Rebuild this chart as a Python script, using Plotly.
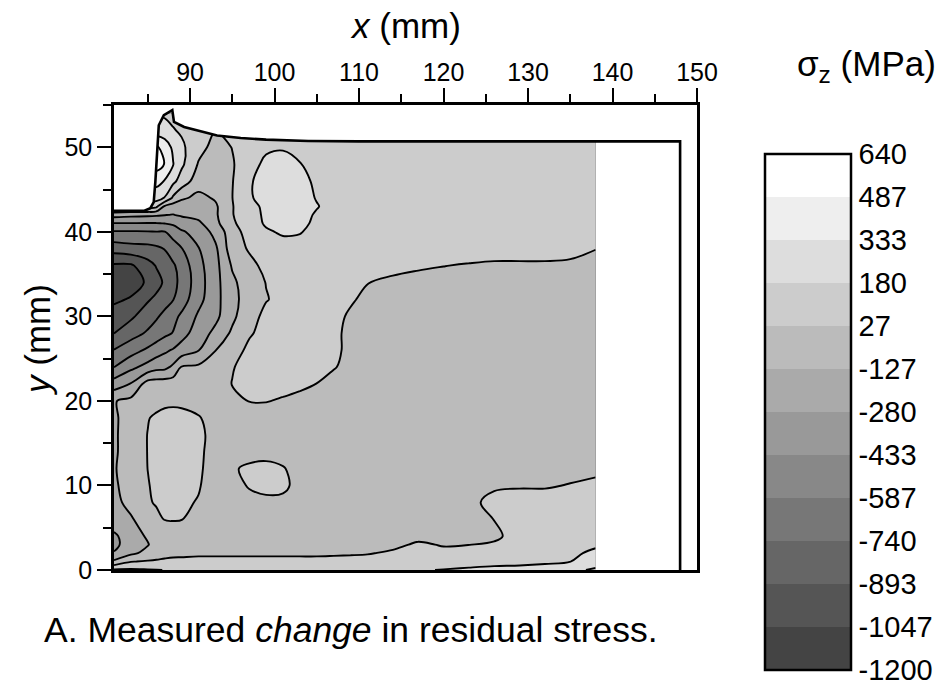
import plotly.graph_objects as go

# ---------------- data ----------------
# measurement grid (mm)
x_mm = [81, 83, 85, 86, 87, 88, 89, 91, 93, 95, 97, 99, 101, 103, 105, 107, 109, 111,
        114, 117, 120, 123, 126, 129, 132, 135, 138]
y_mm = [0, 1, 2, 3, 4, 6, 8, 10, 12, 14, 16, 18, 20, 22, 24, 26, 28, 30, 32, 34, 36,
        38, 40, 41, 42, 43, 44, 46, 48, 50, 52, 54]

# measured change in sigma_z (MPa); one row per y value, one column per x value
sigma_z = [
    [200, 200, 190, 185, 178, 165, 150, 140, 140, 140, 140, 140, 140, 140, 140, 140, 140, 140, 150, 170, 185, 200, 210, 215, 230, 290, 360],
    [-100, 20, 40, 45, 50, 55, 55, 60, 60, 60, 60, 60, 60, 60, 60, 60, 60, 65, 100, 110, 120, 130, 145, 150, 160, 178, 250],
    [-270, -160, -80, -40, -15, -5, 0, 5, 5, 5, 5, 5, 5, 5, 5, 10, 15, 20, 40, 60, 50, 55, 70, 120, 135, 160, 200],
    [-320, -200, -135, -70, -45, -35, -30, -30, -30, -30, -30, -30, -30, -30, -30, -25, -20, -15, 5, 40, 20, 25, 50, 110, 120, 130, 165],
    [-310, -190, -110, -70, -50, -45, -45, -45, -45, -45, -45, -45, -45, -45, -45, -45, -45, -40, -30, 0, -10, -20, -10, 100, 105, 110, 120],
    [-190, -140, -60, -10, 32, 35, 30, -10, -40, -45, -45, -45, -45, -45, -45, -45, -45, -45, -45, -45, -45, -50, 30, 100, 100, 105, 110],
    [-160, -90, 10, 40, 50, 50, 45, 20, -30, -40, -25, 0, 0, -35, -45, -45, -45, -45, -45, -45, -40, -20, 80, 100, 100, 105, 110],
    [-150, -60, 20, 50, 55, 55, 50, 35, -25, -30, 40, 60, 50, -10, -40, -45, -45, -45, -45, -45, -45, -35, 0, 10, 10, 35, 70],
    [-140, -50, 28, 55, 60, 60, 55, 45, -25, 15, 45, 55, 35, -20, -40, -45, -45, -45, -45, -45, -45, -45, -45, -45, -45, -30, -20],
    [-150, -50, 30, 55, 62, 62, 60, 50, -20, -35, -15, -10, -25, -40, -45, -45, -45, -45, -45, -45, -45, -45, -45, -45, -45, -45, -45],
    [-150, -50, 30, 55, 65, 65, 65, 55, -15, -35, -40, -40, -40, -45, -45, -45, -45, -45, -45, -45, -45, -45, -45, -45, -45, -45, -45],
    [-150, -60, 20, 45, 55, 55, 55, 35, -20, -35, -30, -30, -35, -40, -45, -45, -45, -45, -45, -45, -45, -45, -45, -45, -45, -45, -45],
    [-135, -90, -40, -15, 5, 10, 5, -20, -25, -5, 30, 32, 15, -5, -20, -35, -45, -45, -45, -45, -45, -45, -45, -45, -45, -45, -45],
    [-360, -270, -60, -50, -45, -45, -45, -40, -20, 30, 60, 70, 65, 50, 25, -20, -45, -45, -45, -45, -45, -45, -45, -45, -45, -45, -45],
    [-590, -470, -380, -330, -320, -250, -115, -100, -60, 20, 65, 80, 85, 80, 65, 35, -10, -30, -40, -45, -45, -45, -45, -45, -45, -45, -45],
    [-735, -650, -560, -510, -460, -420, -370, -285, -130, -20, 50, 80, 90, 90, 80, 50, 0, -30, -40, -45, -45, -45, -45, -45, -45, -45, -45],
    [-895, -800, -720, -670, -620, -580, -490, -360, -240, -100, 15, 60, 75, 80, 75, 50, 0, -30, -40, -45, -45, -45, -45, -45, -45, -45, -45],
    [-990, -920, -810, -760, -700, -630, -560, -410, -320, -160, -25, 60, 75, 80, 80, 60, 10, -20, -40, -45, -45, -45, -45, -45, -45, -45, -45],
    [-1070, -1035, -910, -860, -800, -745, -660, -480, -330, -170, -60, 20, 60, 75, 75, 60, 40, 0, -40, -45, -45, -45, -45, -45, -45, -45, -45],
    [-1150, -1100, -1030, -950, -870, -780, -700, -500, -330, -160, -40, 30, 70, 90, 90, 80, 60, 30, -10, -30, -35, -40, -40, -40, -40, -40, -45],
    [-1070, -1070, -950, -885, -830, -760, -680, -480, -330, -110, -10, 60, 90, 100, 100, 100, 100, 100, 80, 50, 30, 15, 0, 0, 0, 0, -25],
    [-830, -800, -790, -770, -735, -665, -595, -440, -310, -40, 40, 100, 120, 115, 105, 100, 100, 100, 100, 100, 100, 100, 100, 100, 100, 70, 30],
    [-600, -600, -595, -590, -590, -520, -450, -380, -230, -40, 90, 160, 200, 190, 130, 105, 100, 100, 100, 100, 100, 100, 100, 100, 100, 100, 100],
    [-440, -440, -440, -440, -430, -410, -370, -310, -170, 5, 100, 200, 250, 230, 140, 110, 100, 100, 100, 100, 100, 100, 100, 100, 100, 100, 100],
    [-220, -240, -250, -260, -275, -285, -260, -230, -150, 20, 110, 210, 260, 240, 160, 115, 100, 100, 100, 100, 100, 100, 100, 100, 100, 100, 100],
    [100, 100, 100, 60, -150, -200, -220, -240, -150, 20, 120, 220, 260, 240, 190, 120, 100, 100, 100, 100, 100, 100, 100, 100, 100, 100, 100],
    [250, 250, 250, 250, 170, 0, -100, -170, -110, 25, 160, 240, 300, 250, 170, 120, 100, 100, 100, 100, 100, 100, 100, 100, 100, 100, 100],
    [380, 380, 380, 380, 325, 220, 110, -50, -70, 20, 165, 230, 280, 230, 150, 110, 100, 100, 100, 100, 100, 100, 100, 100, 100, 100, 100],
    [560, 560, 560, 560, 480, 340, 210, 15, -40, 15, 110, 220, 260, 185, 140, 110, 100, 100, 100, 100, 100, 100, 100, 100, 100, 100, 100],
    [510, 510, 510, 510, 430, 300, 210, 75, -20, 30, 100, 150, 160, 140, 110, 100, 100, 100, 100, 100, 100, 100, 100, 100, 100, 100, 100],
    [250, 250, 250, 250, 230, 190, 160, 100, 30, 80, 100, 100, 100, 100, 100, 100, 100, 100, 100, 100, 100, 100, 100, 100, 100, 100, 100],
    [170, 170, 170, 170, 160, 140, 120, 100, 100, 100, 100, 100, 100, 100, 100, 100, 100, 100, 100, 100, 100, 100, 100, 100, 100, 100, 100],
]

# contour levels and colour-bar labels
level_start = -1200
level_end = 640
level_step = 153.3333
cbar_labels = ["-1200", "-1047", "-893", "-740", "-587", "-433", "-280", "-127",
               "27", "180", "333", "487", "640"]
band_grays = [68, 85, 102, 119, 136, 153, 170, 187, 204, 221, 238, 255]

# specimen outline (mm)
outline_x = [81, 84.6, 85.3, 85.7, 85.9, 86.1, 86.3, 86.9, 87.9, 88.1, 89.3, 91.6, 93.2,
             96, 99, 104, 110, 148, 148]
outline_y = [42.5, 42.5, 42.8, 43.5, 46, 50.2, 52.6, 53.8, 54.4, 53.0, 52.4, 51.8, 51.4,
             51.1, 50.9, 50.75, 50.7, 50.7, 0]

x_range = [81, 150]
y_range = [0, 55]

# ---------------- figure ----------------
FONT = "Liberation Sans, Arial, sans-serif"
W, H = 948, 692
PL, PR, PT, PB = 114, 697, 105, 570   # plot-area pixel box


def paper(px, py):
    return (px - PL) / (PR - PL), (PB - py) / (PB - PT)


def gray(g):
    return "rgb({0},{0},{0})".format(g)


levels = [level_start + k * level_step for k in range(len(cbar_labels))]
nb = len(band_grays)

# colours used by the contour fill (evaluated at band mid-points)
fill_scale = [[0, gray(band_grays[0])]]
for k, g in enumerate(band_grays):
    fill_scale.append([(2 * k + 1) / (2 * nb), gray(g)])
fill_scale.append([1, gray(band_grays[-1])])

# stepped scale for the colour bar
step_scale = []
for k, g in enumerate(band_grays):
    step_scale.append([k / nb, gray(g)])
    step_scale.append([(k + 1) / nb, gray(g)])

contours_common = dict(start=level_start, end=level_end, size=level_step)

fig = go.Figure()

fig.add_trace(go.Contour(
    x=x_mm, y=y_mm, z=sigma_z,
    zmin=level_start, zmax=level_end, autocontour=False,
    contours=dict(coloring="fill", showlines=False, **contours_common),
    colorscale=fill_scale,
    line=dict(width=0, smoothing=1),
    hoverinfo="skip", showscale=False,
))

fig.add_trace(go.Contour(
    x=x_mm, y=y_mm, z=sigma_z, autocontour=False,
    contours=dict(coloring="none", showlines=True, **contours_common),
    line=dict(color="black", width=1.9, smoothing=1),
    showscale=False, hoverinfo="skip",
))

# white mask outside the specimen
mask_x = outline_x[:-1] + [x_range[1] + 2, x_range[1] + 2, x_range[0] - 2, x_range[0] - 2]
mask_y = outline_y[:-1] + [outline_y[-2], y_range[1] + 2, y_range[1] + 2, outline_y[0]]
fig.add_trace(go.Scatter(
    x=mask_x, y=mask_y, mode="lines", fill="toself", fillcolor="white",
    line=dict(width=0, color="white"), hoverinfo="skip", showlegend=False,
))

fig.add_trace(go.Scatter(
    x=outline_x, y=outline_y, mode="lines",
    line=dict(color="black", width=2.6), hoverinfo="skip", showlegend=False,
))

# colour bar carrier (invisible markers)
cb_x, cb_y = paper(765, 154)
fig.add_trace(go.Scatter(
    x=[x_mm[0], x_mm[0]], y=[y_mm[0], y_mm[0]], mode="markers",
    hoverinfo="skip", showlegend=False,
    marker=dict(
        size=1, opacity=0,
        color=[level_start, level_end], cmin=level_start, cmax=level_end,
        colorscale=step_scale, showscale=True,
        colorbar=dict(
            thickness=86, thicknessmode="pixels",
            len=516, lenmode="pixels",
            x=cb_x, xanchor="left", y=cb_y, yanchor="top",
            xpad=0, ypad=0,
            outlinewidth=2.5, outlinecolor="black",
            tickmode="array", tickvals=levels, ticktext=cbar_labels,
            ticks="", ticklabelposition="outside", ticklabeloverflow="allow",
            tickfont=dict(family=FONT, size=29, color="black"),
        ),
    ),
))

axis_common = dict(
    showline=True, linewidth=2.6, linecolor="black", mirror=True,
    ticks="outside", ticklen=14, tickwidth=2, tickcolor="black",
    showgrid=False, zeroline=False,
    tickfont=dict(family=FONT, size=25, color="black"),
    minor=dict(ticks="outside", ticklen=8, tickwidth=2, tickcolor="black", dtick=5, showgrid=False),
)

fig.update_xaxes(range=x_range, side="top", tick0=0, dtick=10, ticklabelstandoff=-3, **axis_common)
fig.update_yaxes(range=y_range, tick0=0, dtick=10, **axis_common)


def label(text, px, py, size=35, angle=0):
    ax_, ay_ = paper(px, py)
    return dict(text=text, x=ax_, y=ay_, xref="paper", yref="paper",
                xanchor="center", yanchor="middle", textangle=angle,
                showarrow=False, font=dict(family=FONT, size=size, color="black"))


ann = [
    label("<i>x</i> (mm)", 405, 26),
    label("<i>y</i> (mm)", 37, 340, angle=-90),
    label("σ<sub>z</sub> (MPa)", 866, 66),
    label("A. Measured <i>change</i> in residual stress.", 351, 630, size=35.5),
]

fig.update_layout(
    width=W, height=H,
    margin=dict(l=PL, r=W - PR, t=PT, b=H - PB, autoexpand=False),
    paper_bgcolor="white", plot_bgcolor="white",
    showlegend=False, hovermode=False,
    annotations=ann,
    font=dict(family=FONT, color="black"),
)

fig.write_html("out.html")
